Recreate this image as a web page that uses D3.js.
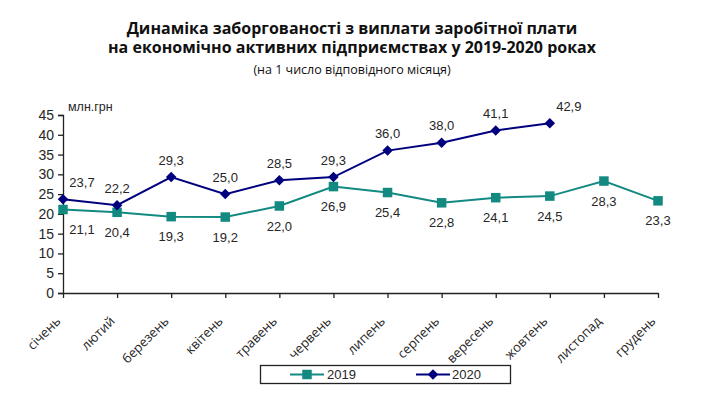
<!DOCTYPE html>
<html>
<head>
<meta charset="utf-8">
<script src="https://cdn.jsdelivr.net/npm/d3@7"></script>
<style>
  html, body { margin: 0; padding: 0; background: #fff; }
  svg { display: block; }
</style>
</head>
<body>
<svg id="chart" width="723" height="404"></svg>
<script>
const titleLines = ["Динаміка заборгованості з виплати заробітної плати", "на економічно активних підприємствах у 2019-2020 роках"];
const subtitle = "(на 1 число відповідного місяця)";
const unitLabel = "млн.грн";
const months = ["січень", "лютий", "березень", "квітень", "травень", "червень", "липень", "серпень", "вересень", "жовтень", "листопад", "грудень"];
const values2019 = [21.1, 20.4, 19.3, 19.2, 22.0, 26.9, 25.4, 22.8, 24.1, 24.5, 28.3, 23.3];
const values2020 = [23.7, 22.2, 29.3, 25.0, 28.5, 29.3, 36.0, 38.0, 41.1, 42.9];
const yTicks = [0, 5, 10, 15, 20, 25, 30, 35, 40, 45];
const seriesNames = ["2019", "2020"];

const col2019 = "#128a82";
const col2020 = "#00007f";
const textCol = "#262626";

const svg = d3.select("#chart");

// Title
const tg = svg.append("g").attr("font-family", "'Open Sans', sans-serif").attr("fill", "#111").attr("text-anchor", "middle");
tg.append("text").attr("x", 352).attr("y", 33.5).attr("font-size", 16).attr("font-weight", 700).text(titleLines[0]);
tg.append("text").attr("x", 352).attr("y", 53).attr("font-size", 16).attr("font-weight", 700).text(titleLines[1]);
tg.append("text").attr("x", 352).attr("y", 74).attr("font-size", 12.5).text(subtitle);

const x = d3.scalePoint().domain(months).range([63, 658]);
const y = d3.scaleLinear().domain([0, 45]).range([293, 115]);

// Y axis
const yAxis = svg.append("g").attr("transform", "translate(63,0)")
  .call(d3.axisLeft(y).tickValues(yTicks).tickSize(5).tickPadding(4).tickFormat(d3.format("d")));
yAxis.select(".domain").attr("stroke", "#222").attr("stroke-width", 1.3);
yAxis.selectAll(".tick line").attr("stroke", "#222").attr("stroke-width", 1.3);
yAxis.selectAll("text").attr("font-family", "'Liberation Sans', Arial, sans-serif").attr("font-size", 14).attr("fill", textCol);

// X axis
const xAxis = svg.append("g").attr("transform", "translate(0,293)")
  .call(d3.axisBottom(x).tickSize(5).tickSizeOuter(0).tickPadding(2));
xAxis.select(".domain").attr("stroke", "#222").attr("stroke-width", 1.3);
xAxis.selectAll(".tick line").attr("stroke", "#222").attr("stroke-width", 1.3);
xAxis.selectAll("text")
  .attr("font-family", "'Open Sans', sans-serif").attr("font-size", 13).attr("fill", textCol)
  .attr("text-anchor", "end")
  .attr("transform", "translate(-2,29) rotate(-45)")
  .attr("dy", 0).attr("y", 0).attr("x", 0);

// unit label
svg.append("text").attr("x", 68).attr("y", 111)
  .attr("font-family", "'Liberation Sans', Arial, sans-serif").attr("font-size", 12.5).attr("fill", textCol)
  .text(unitLabel);

const d2019 = values2019.map((v, i) => ({ m: months[i], v, i }));
const d2020 = values2020.map((v, i) => ({ m: months[i], v, i }));

const line = d3.line().x(d => x(d.m)).y(d => y(d.v));

svg.append("path").datum(d2019).attr("d", line).attr("fill", "none").attr("stroke", col2019).attr("stroke-width", 2);
svg.append("path").datum(d2020).attr("d", line).attr("fill", "none").attr("stroke", col2020).attr("stroke-width", 2);

const sq = 9.5;
svg.append("g").selectAll("rect").data(d2019).join("rect")
  .attr("x", d => x(d.m) - sq / 2).attr("y", d => y(d.v) - sq / 2)
  .attr("width", sq).attr("height", sq).attr("fill", col2019);

const diamond = d3.symbol().type(d3.symbolDiamond2).size(70);
svg.append("g").selectAll("path").data(d2020).join("path")
  .attr("transform", d => `translate(${x(d.m)},${y(d.v)})`)
  .attr("d", diamond).attr("fill", col2020);

const fmt = v => v.toFixed(1).replace(".", ",");
const lblFont = "'Liberation Sans', Arial, sans-serif";

svg.append("g").selectAll("text").data(d2019).join("text")
  .attr("x", d => x(d.m) + (d.i === 0 ? 19 : 0))
  .attr("y", d => y(d.v) + 20)
  .attr("dy", "0.35em").attr("text-anchor", "middle")
  .attr("font-family", lblFont).attr("font-size", 13).attr("fill", textCol)
  .text(d => fmt(d.v));

svg.append("g").selectAll("text").data(d2020).join("text")
  .attr("x", d => x(d.m) + ((d.i === 0 || d.i === d2020.length - 1) ? 19 : 0))
  .attr("y", d => y(d.v) - 17)
  .attr("dy", "0.35em").attr("text-anchor", "middle")
  .attr("font-family", lblFont).attr("font-size", 13).attr("fill", textCol)
  .text(d => fmt(d.v));

// Legend
const lg = svg.append("g");
lg.append("rect").attr("x", 260.5).attr("y", 365.5).attr("width", 250).attr("height", 18)
  .attr("fill", "#fff").attr("stroke", "#222").attr("stroke-width", 1.3);
lg.append("line").attr("x1", 290).attr("x2", 324).attr("y1", 374.5).attr("y2", 374.5).attr("stroke", col2019).attr("stroke-width", 2);
lg.append("rect").attr("x", 307 - sq / 2).attr("y", 374.5 - sq / 2).attr("width", sq).attr("height", sq).attr("fill", col2019);
lg.append("text").attr("x", 327).attr("y", 374.5).attr("dy", "0.35em")
  .attr("font-family", lblFont).attr("font-size", 13).attr("fill", textCol).text(seriesNames[0]);
lg.append("line").attr("x1", 416).attr("x2", 450).attr("y1", 374.5).attr("y2", 374.5).attr("stroke", col2020).attr("stroke-width", 2);
lg.append("path").attr("transform", "translate(433,374.5)").attr("d", diamond).attr("fill", col2020);
lg.append("text").attr("x", 452).attr("y", 374.5).attr("dy", "0.35em")
  .attr("font-family", lblFont).attr("font-size", 13).attr("fill", textCol).text(seriesNames[1]);
</script>
</body>
</html>
